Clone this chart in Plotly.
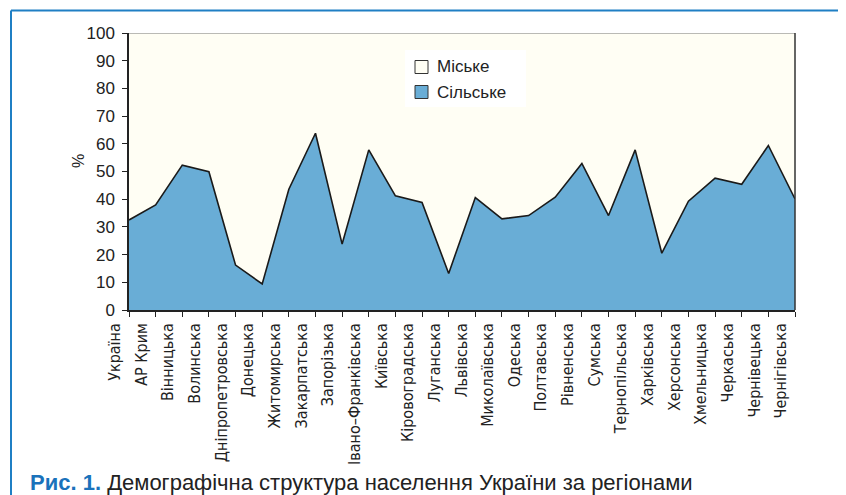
import plotly.graph_objects as go

# Data: share of rural / urban population by region, %
regions = ['Україна', 'АР Крим', 'Вінницька', 'Волинська', 'Дніпропетровська',
           'Донецька', 'Житомирська', 'Закарпатська', 'Запорізька', 'Івано–Франківська',
           'Київська', 'Кіровоградська', 'Луганська', 'Львівська', 'Миколаївська',
           'Одеська', 'Полтавська', 'Рівненська', 'Сумська', 'Тернопільська',
           'Харківська', 'Херсонська', 'Хмельницька', 'Черкаська', 'Чернівецька',
           'Чернігівська']
rural = [32.5, 37.9, 52.3, 49.9, 16.2, 9.4, 43.6, 63.8, 23.8, 57.8,
         41.2, 38.8, 13.2, 40.6, 32.9, 34.1, 40.7, 52.9, 34.1, 57.8,
         20.5, 39.3, 47.6, 45.4, 59.4, 40.1]
urban = [67.5, 62.1, 47.7, 50.1, 83.8, 90.6, 56.4, 36.2, 76.2, 42.2,
         58.8, 61.2, 86.8, 59.4, 67.1, 65.9, 59.3, 47.1, 65.9, 42.2,
         79.5, 60.7, 52.4, 54.6, 40.6, 59.9]
y_ticks = list(range(0, 101, 10))
legend_names = ['Міське', 'Сільське']

RURAL_COL = '#69add6'
URBAN_COL = '#fffef4'

W, H = 846, 495
OFF = 8                          # page body margin, everything is placed in page pixels
L, R, T, B = 129, 795, 33, 310   # plot area in page pixels


def px(x):
    return (x - L) / (R - L)


def py(y):
    return (B - y) / (B - T)


x = list(range(len(regions)))

fig = go.Figure()
fig.add_trace(go.Scatter(x=x, y=rural, name='Сільське', mode='lines', stackgroup='a',
                         fillcolor=RURAL_COL, line=dict(color='#1a1a1a', width=1.6),
                         showlegend=False))
fig.add_trace(go.Scatter(x=x, y=urban, name='Міське', mode='lines', stackgroup='a',
                         fillcolor=URBAN_COL, line=dict(color='#777777', width=1),
                         showlegend=False))

narrow = 'Liberation Sans Narrow, DejaVu Sans Condensed, Arial'
sans = 'Liberation Sans, Arial'

fig.update_layout(
    width=W, height=H,
    margin=dict(l=L - OFF, r=W - R + OFF, t=T - OFF, b=H - B + OFF),
    paper_bgcolor='white', plot_bgcolor=URBAN_COL,
    showlegend=False,
    font=dict(family=sans, color='#222'),
)
fig.update_xaxes(range=[0, len(regions) - 1], tickvals=x, ticktext=regions,
                 tickangle=-90, ticks='outside', ticklen=5, tickcolor='#222',
                 ticklabelshift=-14, showgrid=False, zeroline=False,
                 showline=True, linecolor='#222', linewidth=1.5,
                 tickfont=dict(family=narrow, size=16, color='#222'))
fig.update_yaxes(range=[0, 100], tickvals=y_ticks, ticks='outside', ticklen=5,
                 tickcolor='#222', showgrid=False, zeroline=False,
                 showline=True, linecolor='#222', linewidth=1.5, ticklabelstandoff=4,
                 tickfont=dict(family=sans, size=17, color='#222'))

# "%" axis title
fig.add_annotation(xref='paper', yref='paper', x=px(78), y=py(161), text='%',
                   xanchor='center', yanchor='middle', textangle=-90, showarrow=False,
                   font=dict(family=sans, size=16, color='#222'))

# right border of plot area
fig.add_shape(type='line', xref='paper', yref='paper', x0=1, x1=1, y0=0, y1=1,
              line=dict(color='#333', width=1.5))

# legend box
fig.add_shape(type='rect', xref='paper', yref='paper', x0=px(405), x1=px(526),
              y0=py(50), y1=py(107), fillcolor='white', line=dict(width=0))
for i, (name, col) in enumerate(zip(legend_names, [URBAN_COL, RURAL_COL])):
    cy = 67 + 25 * i
    fig.add_shape(type='rect', xref='paper', yref='paper', x0=px(415), x1=px(428),
                  y0=py(cy - 6.5), y1=py(cy + 6.5), fillcolor=col,
                  line=dict(color='#333', width=1))
    fig.add_annotation(xref='paper', yref='paper', x=px(435), y=py(cy), text=name,
                       xanchor='left', yanchor='middle', showarrow=False,
                       font=dict(family=sans, size=17, color='#222'))

# blue frame of the figure
fig.add_shape(type='line', xref='paper', yref='paper', x0=px(11), x1=px(W + 20),
              y0=py(10.5), y1=py(10.5), line=dict(color='#1f7fc4', width=2))
fig.add_shape(type='line', xref='paper', yref='paper', x0=px(11), x1=px(11),
              y0=py(10.5), y1=py(H + 20), line=dict(color='#1f7fc4', width=2))

# caption
fig.add_annotation(xref='paper', yref='paper', x=px(28), y=py(482), xanchor='left',
                   yanchor='middle', showarrow=False,
                   text='<b><span style="color:#1a72bb">Рис. 1.</span></b> '
                        'Демографічна структура населення України за регіонами',
                   font=dict(family=sans, size=22, color='#222'))

fig.write_html('out.html')
